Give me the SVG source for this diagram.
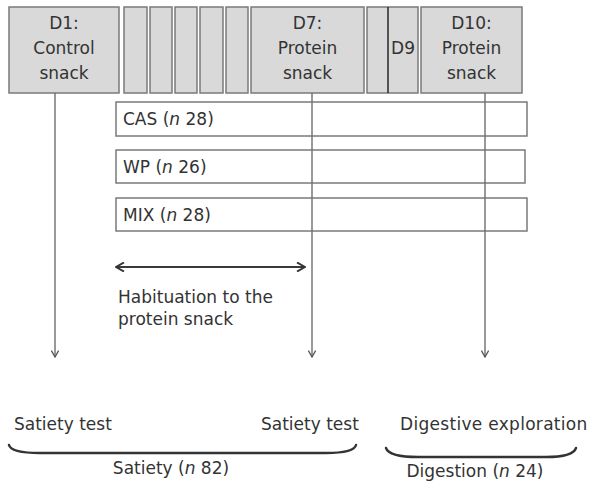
<svg xmlns="http://www.w3.org/2000/svg" width="589" height="483" viewBox="0 0 589 483">
  <style>
    text { font-family: "DejaVu Sans", "Liberation Sans", sans-serif; font-size: 17px; fill: #333; }
    .mid { text-anchor: middle; }
    .day { fill: #d9d9d9; stroke: #7a7a7a; stroke-width: 1.5; }
    .row { fill: #ffffff; stroke: #7a7a7a; stroke-width: 1.5; }
    .line { fill: none; stroke: #6e6e6e; stroke-width: 1.4; }
    .dbl { fill: none; stroke: #3a3a3a; stroke-width: 2; }
    .brace { fill: none; stroke: #333; stroke-width: 2.4; stroke-linecap: round; }
  </style>
  <defs>
    <marker id="tip" viewBox="0 0 10 10" refX="9" refY="5" markerWidth="8" markerHeight="8" markerUnits="userSpaceOnUse" orient="auto">
      <path d="M1,0.5 L9,5 L1,9.5" fill="none" stroke="#555" stroke-width="1.6"/>
    </marker>
    <marker id="tipDark" viewBox="0 0 10 10" refX="9" refY="5" markerWidth="10" markerHeight="10" markerUnits="userSpaceOnUse" orient="auto-start-reverse">
      <path d="M1,0.5 L9,5 L1,9.5" fill="none" stroke="#333" stroke-width="2"/>
    </marker>
  </defs>

  <!-- day timeline -->
  <g id="d1">
    <rect class="day" x="9" y="7" width="110" height="86"/>
    <text class="mid" x="64" y="29">D1:</text>
    <text class="mid" x="64" y="54">Control</text>
    <text class="mid" x="64" y="79">snack</text>
  </g>
  <g id="d2"><rect class="day" x="124" y="7" width="23" height="86"/></g>
  <g id="d3"><rect class="day" x="150" y="7" width="22" height="86"/></g>
  <g id="d4"><rect class="day" x="175" y="7" width="22" height="86"/></g>
  <g id="d5"><rect class="day" x="200" y="7" width="23" height="86"/></g>
  <g id="d6"><rect class="day" x="226" y="7" width="22" height="86"/></g>
  <g id="d7">
    <rect class="day" x="251" y="7" width="113" height="86"/>
    <text class="mid" x="307.5" y="29">D7:</text>
    <text class="mid" x="307.5" y="54">Protein</text>
    <text class="mid" x="307.5" y="79">snack</text>
  </g>
  <g id="d8-d9">
    <rect class="day" x="367" y="7" width="51" height="86"/>
    <line x1="388" y1="7" x2="388" y2="93" stroke="#333" stroke-width="1.6"/>
    <text class="mid" x="403" y="54">D9</text>
  </g>
  <g id="d10">
    <rect class="day" x="421" y="7" width="101" height="86"/>
    <text class="mid" x="471.5" y="29">D10:</text>
    <text class="mid" x="471.5" y="54">Protein</text>
    <text class="mid" x="471.5" y="79">snack</text>
  </g>

  <!-- groups -->
  <g id="cas">
    <rect class="row" x="116" y="102" width="411" height="34"/>
    <text x="123" y="125">CAS (<tspan font-style="italic">n</tspan> 28)</text>
  </g>
  <g id="wp">
    <rect class="row" x="116" y="150" width="409" height="33"/>
    <text x="123" y="173">WP (<tspan font-style="italic">n</tspan> 26)</text>
  </g>
  <g id="mix">
    <rect class="row" x="116" y="198" width="411" height="33"/>
    <text x="123" y="221">MIX (<tspan font-style="italic">n</tspan> 28)</text>
  </g>

  <!-- connectors -->
  <g id="connectors">
    <line class="line" x1="55" y1="93" x2="55" y2="357" marker-end="url(#tip)"/>
    <line class="line" x1="312" y1="93" x2="312" y2="357" marker-end="url(#tip)"/>
    <line class="line" x1="485" y1="93" x2="485" y2="357" marker-end="url(#tip)"/>
    <line class="dbl" x1="116" y1="267" x2="305" y2="267" marker-start="url(#tipDark)" marker-end="url(#tipDark)"/>
  </g>

  <g id="habituation">
    <text x="118" y="303">Habituation to the</text>
    <text x="118" y="325">protein snack</text>
  </g>

  <g id="outcomes">
    <text x="14" y="430">Satiety test</text>
    <text x="261" y="430">Satiety test</text>
    <text x="400" y="430" letter-spacing="0.3">Digestive exploration</text>
  </g>

  <g id="braces">
    <path class="brace" d="M9,445 Q11,453 40,453 L326,453 Q354,453 356,445"/>
    <path class="brace" d="M386,448 Q389,457 418,457 L546,457 Q573,457 576,448"/>
  </g>

  <g id="totals">
    <text class="mid" x="171" y="474">Satiety (<tspan font-style="italic">n</tspan> 82)</text>
    <text class="mid" x="475" y="477">Digestion (<tspan font-style="italic">n</tspan> 24)</text>
  </g>
</svg>
